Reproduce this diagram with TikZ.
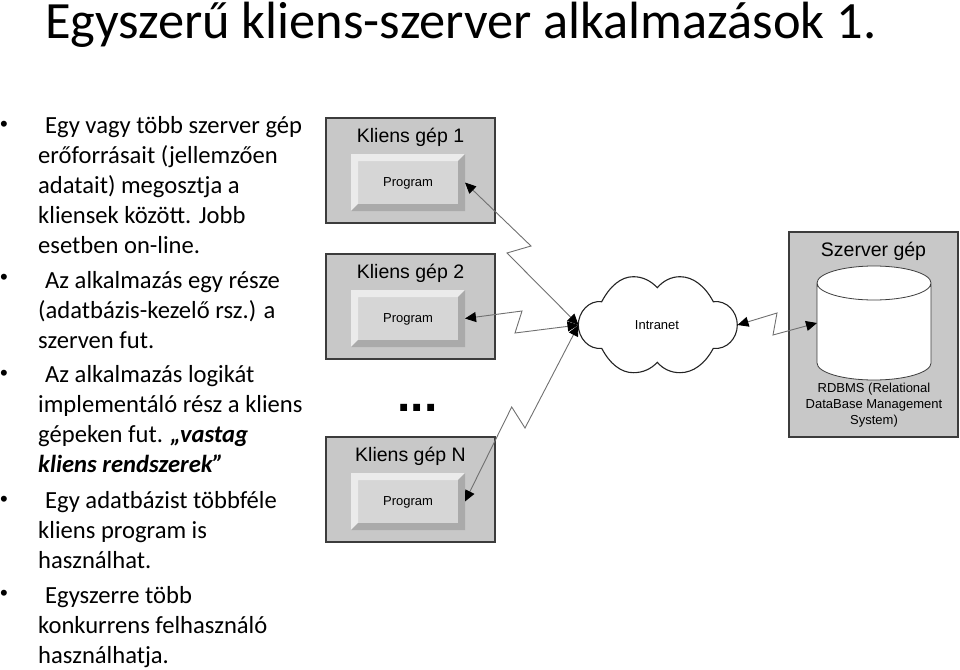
\documentclass[tikz,border=0pt]{standalone}
\usepackage{fontspec}
\setmainfont{Carlito}
\newfontfamily\arialfont{Liberation Sans}
\usetikzlibrary{arrows.meta, positioning}
\definecolor{boxgray}{HTML}{C8C8C8}
\definecolor{facegray}{HTML}{D6D6D6}
\definecolor{bevellight}{HTML}{EBEBEB}
\definecolor{beveldark}{HTML}{AAAAAA}
\definecolor{linkgray}{HTML}{707070}
\definecolor{edgegray}{HTML}{3C3C3C}

\begin{document}
\begin{tikzpicture}[x=1pt, y=-1pt]
	\tikzset{>={Triangle[length=11pt, width=10pt, color=black]},
		machine/.style={draw=edgegray, line width=1.2pt, fill=boxgray, minimum width=169pt, minimum height=105pt, inner sep=0pt, outer sep=0pt},
		machinetext/.style={font=\arialfont\fontsize{19.5}{24}\selectfont, inner sep=0pt, text depth=0pt},
		small/.style={font=\arialfont\fontsize{13}{16}\selectfont, inner sep=0pt, align=center},
		para/.style={font=\fontsize{24.6}{29.8}\selectfont, align=left, anchor=base west, inner sep=0pt},
		dot/.style={font=\arialfont\fontsize{22}{24}\selectfont, inner sep=0pt},
		link/.style={<->, draw=linkgray, line width=.9pt},
		bevelbox/.style={small, fill=facegray, text depth=0pt, minimum width=114pt, minimum height=57pt, outer sep=0pt, path picture={
			\fill[bevellight] (path picture bounding box.south west) -- (path picture bounding box.north west) -- (path picture bounding box.north east) -- ([shift={(-7pt,-7pt)}]path picture bounding box.north east) -- ([shift={(7pt,-7pt)}]path picture bounding box.north west) -- ([shift={(7pt,7pt)}]path picture bounding box.south west) -- cycle;
			\fill[beveldark] (path picture bounding box.south west) -- (path picture bounding box.south east) -- (path picture bounding box.north east) -- ([shift={(-7pt,-7pt)}]path picture bounding box.north east) -- ([shift={(-7pt,7pt)}]path picture bounding box.south east) -- ([shift={(7pt,7pt)}]path picture bounding box.south west) -- cycle;
		}}
	}
	\useasboundingbox (0,0) rectangle (960,669);

	\node[font=\fontsize{52.4}{60}\selectfont, anchor=base west, inner sep=0pt] (title) at (45,38) {Egyszerű kliens-szerver alkalmazások 1.};

	\node[para] (par1) at (38,253) {\hspace{7pt}Egy vagy több szerver gép\\erőforrásait (jellemzően\\adatait) megosztja a\\kliensek között. Jobb\\esetben on-line.};
	\node[para] (par2) at (38,348) {\hspace{7pt}Az alkalmazás egy része\\(adatbázis-kezelő rsz.) a\\szerven fut.};
	\node[para] (par3) at (38,472) {\hspace{7pt}Az alkalmazás logikát\\implementáló rész a kliens\\gépeken fut. \textbf{\textit{„vastag}}\\\textbf{\textit{kliens rendszerek”}}};
	\node[para] (par4) at (38,568) {\hspace{7pt}Egy adatbázist többféle\\kliens program is\\használhat.};
	\node[para] (par5) at (38,663) {\hspace{7pt}Egyszerre több\\konkurrens felhasználó\\használhatja.};
	\foreach \n/\y in {1/126, 2/279, 3/375, 4/501, 5/595}
		\node[dot] (bullet\n) at (3.9,\y) {•};

	\node[machine] (client1) at (410.5,170.5) {};
	\node[machine, below=31pt of client1] (client2) {};
	\node[machine, below=78pt of client2] (clientN) {};
	\foreach \n in {1,2,N} {
		\node[machinetext] (label\n) at ([yshift=-17pt]client\n.north) {Kliens gép \n};
		\node[bevelbox, anchor=north] (prog\n) at ([xshift=-2.5pt,yshift=-36pt]client\n.north) {Program};
	}
	\node[font=\arialfont\bfseries\fontsize{48}{50}\selectfont, anchor=base, inner sep=0pt] (dots) at (417.5,411) {...};

	\draw[edgegray!60!black, line width=1.1pt, fill=white] (601.7,301.7)
		.. controls (610,286) and (621,276.7) .. (633.3,276.7)
		.. controls (643,276.7) and (651,281) .. (657.3,287.7)
		.. controls (663,281) and (671,276.7) .. (680,276.7)
		.. controls (693,276.7) and (705,286) .. (713.3,301.7)
		.. controls (727,300) and (737.3,312) .. (737.3,325)
		.. controls (737.3,338) and (727,350) .. (713.3,348.3)
		.. controls (705,364) and (693,372.7) .. (680,372.7)
		.. controls (671,372.7) and (663,369) .. (657.3,362.3)
		.. controls (651,369) and (643,372.7) .. (633.3,372.7)
		.. controls (621,372.7) and (610,364) .. (601.7,348.3)
		.. controls (589,350) and (578.3,338) .. (578.3,325)
		.. controls (578.3,312) and (589,300) .. (601.7,301.7) -- cycle;
	\node[small] (intranet) at (657,325) {Intranet};
	\coordinate (cloudw) at (578.5,325);
	\coordinate (cloude) at (737.5,325);

	\node[machine, minimum height=205pt] (server) at (873.5,334.5) {};
	\node[machinetext] (labelS) at ([yshift=-17pt]server.north) {Szerver gép};
	\draw[edgegray, line width=.8pt, fill=white] (817,283) -- (817,363)
		.. controls (817,372.4) and (842.5,380) .. (874,380)
		.. controls (905.5,380) and (931,372.4) .. (931,363) -- (931,283)
		.. controls (931,273.6) and (905.5,266) .. (874,266)
		.. controls (842.5,266) and (817,273.6) .. (817,283)
		.. controls (817,292.4) and (842.5,300) .. (874,300)
		.. controls (905.5,300) and (931,292.4) .. (931,283);
	\node[minimum width=114pt, minimum height=114pt, inner sep=0pt, outer sep=0pt] (db) at (874,323) {};
	\node[small, below=3pt of db] (rdbms) {RDBMS (Relational\\DataBase Management\\System)};

	\draw[link] (prog1.east) -- (531,246) -- (507,253) -- (cloudw);
	\draw[link] (prog2.east) -- (522,311) -- (515,333) -- (cloudw);
	\draw[link] (progN.east) -- (511.7,407) -- (525,428) -- (cloudw);
	\draw[link] (cloude) -- (777,313) -- (773,335) -- (db.west);
\end{tikzpicture}
\end{document}
